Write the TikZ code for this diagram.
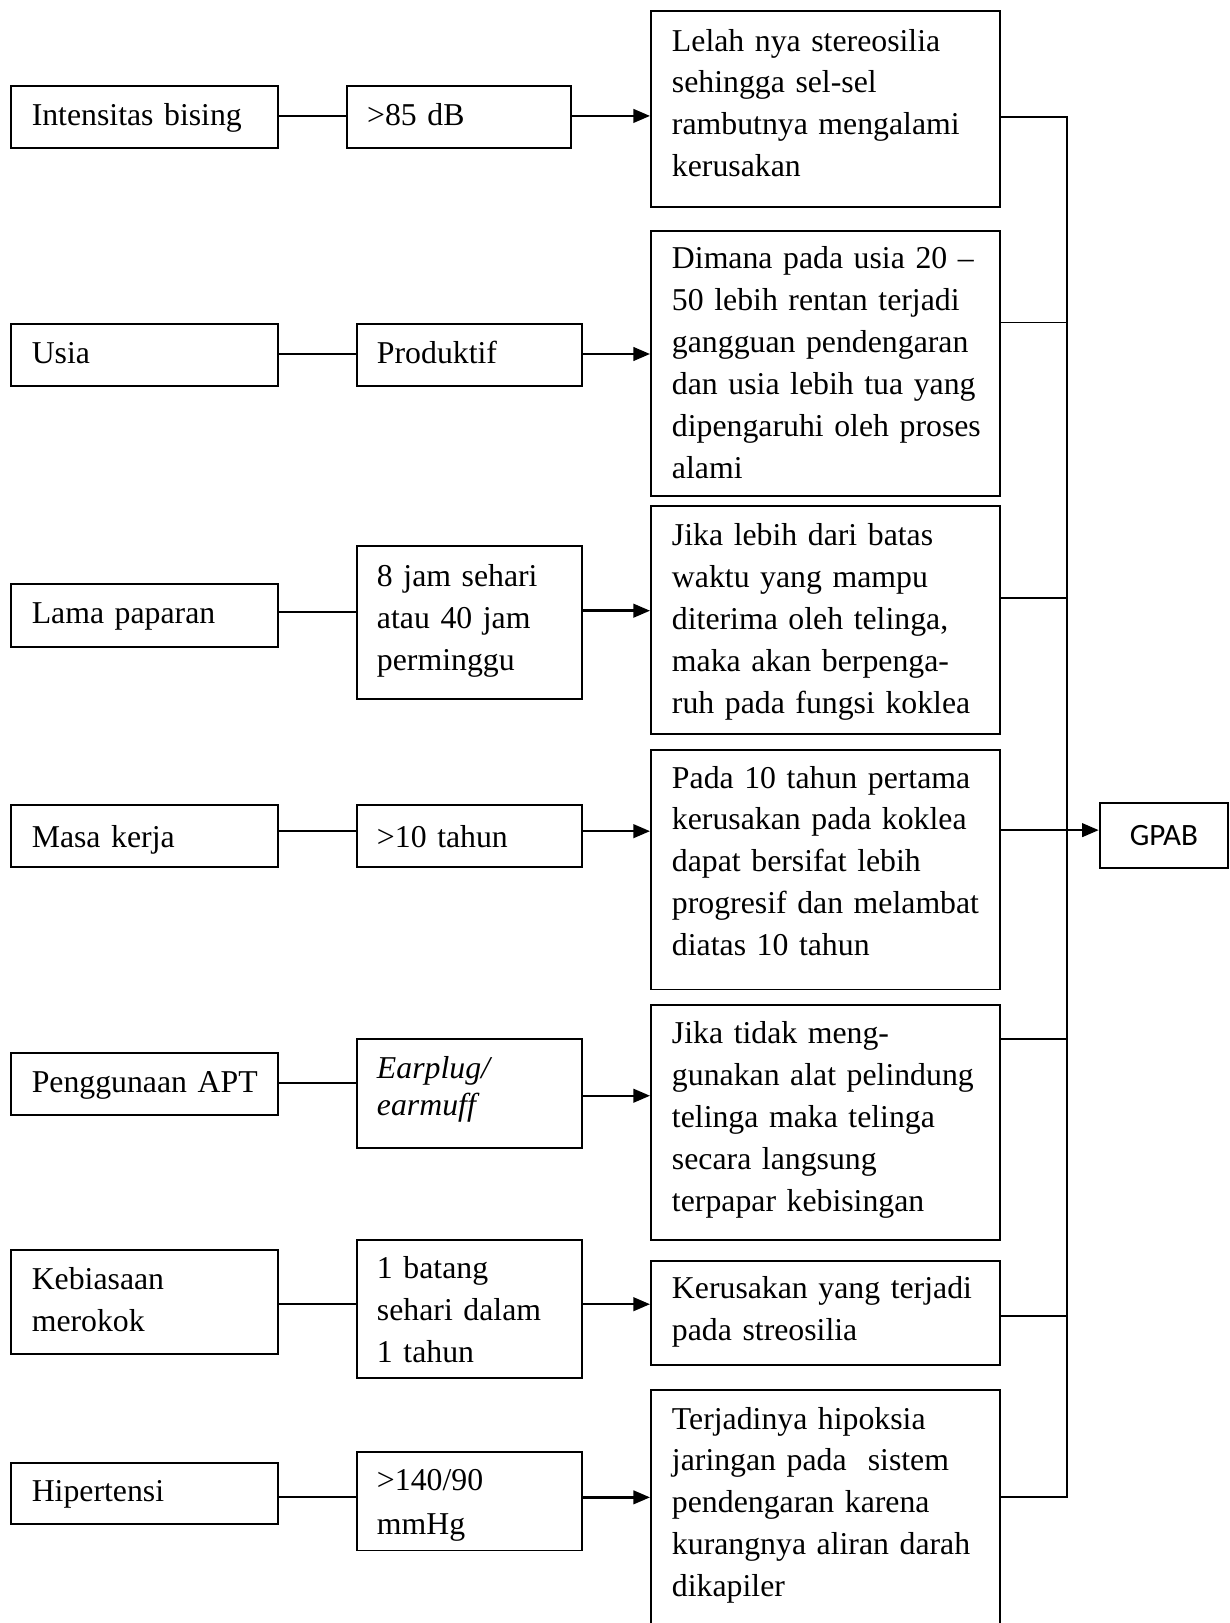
\documentclass[tikz,border=0pt]{standalone}
\usepackage{fontspec}
\setmainfont{Liberation Serif}
\newfontfamily\gpabfont{Carlito}
\usetikzlibrary{arrows.meta}
\newcommand\bodyfs{\fontsize{30.7pt}{40.5pt}\selectfont}
\begin{document}
\begin{tikzpicture}[x=1pt,y=-1pt,
  box/.style={draw, line width=1.9pt, inner sep=0pt, anchor=north west, rectangle},
  txt/.style={inner sep=0pt, anchor=base west, text width=520pt, align=left, font=\bodyfs},
  link/.style={line width=1.8pt},
  arr/.style={line width=2.4pt, -{Triangle[length=16pt,width=13pt]}}]
\useasboundingbox (0,0) rectangle (1188,1568);
% left column
\node[box, minimum width=258pt, minimum height=60pt] (l1) at (10,82) {};
\node[box, minimum width=258pt, minimum height=60pt] (l2) at (10,312) {};
\node[box, minimum width=258pt, minimum height=61pt] (l3) at (10,563) {};
\node[box, minimum width=258pt, minimum height=60pt] (l4) at (10,777) {};
\node[box, minimum width=258pt, minimum height=60pt] (l5) at (10,1016) {};
\node[box, minimum width=258pt, minimum height=100pt] (l6) at (10,1207) {};
\node[box, minimum width=258pt, minimum height=59pt] (l7) at (10,1412) {};
\node[txt] (l1t) at (30.5,121) {Intensitas bising};
\node[txt] (l2t) at (30.5,351) {Usia};
\node[txt] (l3t) at (30.5,602.5) {Lama paparan};
\node[txt] (l4t) at (30.5,819) {Masa kerja};
\node[txt] (l5t) at (30.5,1055.5) {Penggunaan APT};
\node[txt] (l6t) at (30.5,1246) {Kebiasaan\\merokok};
\node[txt] (l7t) at (30.5,1451) {Hipertensi};
% middle column
\node[box, minimum width=217pt, minimum height=60pt] (m1) at (334,82) {};
\node[box, minimum width=217pt, minimum height=60pt] (m2) at (344,312) {};
\node[box, minimum width=217pt, minimum height=147pt] (m3) at (344,527) {};
\node[box, minimum width=217pt, minimum height=60pt] (m4) at (344,777) {};
\node[box, minimum width=217pt, minimum height=105pt] (m5) at (344,1003) {};
\node[box, minimum width=217pt, minimum height=133pt] (m6) at (344,1197) {};
\node[box, minimum width=217pt, minimum height=95pt] (m7) at (344,1402) {};
\node[txt] (m1t) at (354.5,121) {>85 dB};
\node[txt] (m2t) at (364,351) {Produktif};
\node[txt] (m3t) at (364,566.5) {8 jam sehari\\atau 40 jam\\perminggu};
\node[txt] (m4t) at (364,819) {>10 tahun};
\node[txt, font=\fontsize{30.7pt}{36pt}\selectfont] (m5t) at (364,1042) {\textit{Earplug/}\\\textit{earmuff}};
\node[txt] (m6t) at (364,1235.5) {1 batang\\sehari dalam\\1 tahun};
\node[txt, font=\fontsize{30.7pt}{42.7pt}\selectfont] (m7t) at (364,1440) {>140/90\\mmHg};
% right column
\node[box, minimum width=337pt, minimum height=189pt] (r1) at (628,10) {};
\node[box, minimum width=337pt, minimum height=256pt] (r2) at (628,222) {};
\node[box, minimum width=337pt, minimum height=220pt] (r3) at (628,488) {};
\node[box, minimum width=337pt, minimum height=231pt] (r4) at (628,724) {};
\node[box, minimum width=337pt, minimum height=227pt] (r5) at (628,970) {};
\node[box, minimum width=337pt, minimum height=101pt] (r6) at (628,1217) {};
\node[box, minimum width=337pt, minimum height=240pt] (r7) at (628,1342) {};
\node[txt] (r1t) at (649,49.3) {Lelah nya stereosilia\\sehingga sel-sel\\rambutnya mengalami\\kerusakan};
\node[txt] (r2t) at (649,259.5) {Dimana pada usia 20 –\\50 lebih rentan terjadi\\gangguan pendengaran\\dan usia lebih tua yang\\dipengaruhi oleh proses\\alami};
\node[txt] (r3t) at (649,527) {Jika lebih dari batas\\waktu yang mampu\\diterima oleh telinga,\\maka akan berpenga-\\ruh pada fungsi koklea};
\node[txt] (r4t) at (649,761.3) {Pada 10 tahun pertama\\kerusakan pada koklea\\dapat bersifat lebih\\progresif dan melambat\\diatas 10 tahun};
\node[txt] (r5t) at (649,1008.6) {Jika tidak meng-\\gunakan alat pelindung\\telinga maka telinga\\secara langsung\\terpapar kebisingan};
\node[txt] (r6t) at (649,1254.4) {Kerusakan yang terjadi\\pada streosilia};
\node[txt] (r7t) at (649,1380.6) {Terjadinya hipoksia\\jaringan pada~ sistem\\pendengaran karena\\kurangnya aliran darah\\dikapiler};
% GPAB
\node[box, minimum width=124pt, minimum height=63pt, font=\gpabfont\fontsize{30pt}{36pt}\selectfont] (gp) at (1061.5,774.6) {GPAB};
% row coordinates
\coordinate (y1) at (0,112);   \coordinate (a1) at (0,112);
\coordinate (y2) at (0,342);   \coordinate (a2) at (0,342);
\coordinate (y3) at (0,591);   \coordinate (a3) at (0,590);
\coordinate (y4) at (0,803);   \coordinate (a4) at (0,803);
\coordinate (y5) at (0,1046.5);\coordinate (a5) at (0,1058.6);
\coordinate (y6) at (0,1260);  \coordinate (a6) at (0,1260);
\coordinate (y7) at (0,1446.6);\coordinate (a7) at (0,1446.6);
\coordinate (b1) at (0,112.7);
\coordinate (b2) at (0,311.6);
\coordinate (b3) at (0,578);
\coordinate (b4) at (0,802);
\coordinate (b5) at (0,1003.7);
\coordinate (b6) at (0,1271.6);
\coordinate (b7) at (0,1446.6);
\coordinate (bus) at (1031,0);
% left -> middle -> right
\foreach \k in {1,...,7}{
  \draw[link] (l\k.east |- y\k) -- (m\k.west |- y\k);
  \draw[arr] (m\k.east |- a\k) -- (r\k.west |- a\k);
}
% right -> bus
\draw[link] (r1.east |- b1) -- (bus |- b1) -- (bus |- b7) -- (r7.east |- b7);
\foreach \k in {2,...,6}{
  \draw[link] (r\k.east |- b\k) -- (bus |- b\k);
}
\draw[arr] (bus |- b4) -- (gp.west |- b4);
\end{tikzpicture}
\end{document}
